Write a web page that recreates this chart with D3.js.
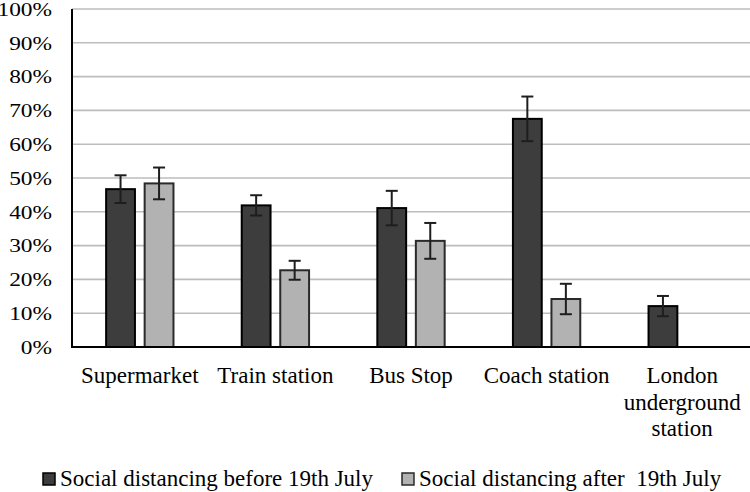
<!DOCTYPE html>
<html>
<head>
<meta charset="utf-8">
<script src="https://cdn.jsdelivr.net/npm/d3@7"></script>
<style>
html,body{margin:0;padding:0;background:#fff;}
svg{display:block;}
</style>
</head>
<body>
<script>
const categories = ["Supermarket", "Train station", "Bus Stop", "Coach station", "London underground station"];
const categoryLines = [["Supermarket"], ["Train station"], ["Bus Stop"], ["Coach station"], ["London", "underground", "station"]];
const seriesNames = ["Social distancing before 19th July", "Social distancing after  19th July"];
const beforeValues = [46.7, 41.9, 41.1, 67.5, 12.1];
const beforeErrors = [4.1, 3.0, 5.1, 6.6, 3.0];
const afterValues = [48.4, 22.7, 31.4, 14.2, null];
const afterErrors = [4.7, 2.8, 5.3, 4.5, null];
const yTicks = [0, 10, 20, 30, 40, 50, 60, 70, 80, 90, 100];
const seriesColors = ["#3d3d3d", "#b2b2b2"];
const seriesStrokes = ["#000000", "#2a2a2a"];

(function () {
const W = 750, H = 492;
const pLeft = 72, pRight = 750, pTop = 9, pBottom = 347;
const FONT = "'Liberation Serif', 'DejaVu Serif', serif";

const svg = d3.select("body").append("svg").attr("width", W).attr("height", H)
  .attr("font-family", FONT);

const y = d3.scaleLinear().domain([0, 100]).range([pBottom, pTop]);
const x0 = d3.scaleBand().domain(categories).range([pLeft, pRight]).padding(0);
const x1 = d3.scaleBand().domain([0, 1]).range([0, x0.bandwidth()]).paddingInner(0.2).paddingOuter(0.86);

// gridlines
svg.append("g").selectAll("line").data(yTicks.filter(t => t > 0)).join("line")
  .attr("x1", pLeft).attr("x2", pRight)
  .attr("y1", d => y(d)).attr("y2", d => y(d))
  .attr("stroke", "#bdbdbd").attr("stroke-width", 1.6);

// y labels
const yl = svg.append("g").selectAll("g").data(yTicks).join("g")
  .attr("transform", d => `translate(52,${y(d)}) scale(1.2,1)`);
yl.append("text").attr("text-anchor", "end").attr("dy", "0.35em")
  .attr("font-family", FONT).attr("font-size", 19.5).attr("fill", "#000").text(d => d + "%");

// bars
const data = [];
categories.forEach((c, i) => {
  data.push({c, s: 0, v: beforeValues[i], e: beforeErrors[i]});
  data.push({c, s: 1, v: afterValues[i], e: afterErrors[i]});
});
const valid = data.filter(d => d.v != null);

svg.append("g").selectAll("rect").data(valid).join("rect")
  .attr("x", d => x0(d.c) + x1(d.s) + 1)
  .attr("width", x1.bandwidth() - 2)
  .attr("y", d => y(d.v))
  .attr("height", d => y(0) - y(d.v))
  .attr("fill", d => seriesColors[d.s])
  .attr("stroke", d => seriesStrokes[d.s])
  .attr("stroke-width", 2);

// error bars
const eb = svg.append("g").attr("stroke", "#1e1e1e").attr("stroke-width", 2);
valid.forEach(d => {
  const cx = x0(d.c) + x1(d.s) + x1.bandwidth() / 2;
  const y1 = y(d.v + d.e), y2 = y(d.v - d.e);
  eb.append("line").attr("x1", cx).attr("x2", cx).attr("y1", y1).attr("y2", y2);
  eb.append("line").attr("x1", cx - 6).attr("x2", cx + 6).attr("y1", y1).attr("y2", y1);
  eb.append("line").attr("x1", cx - 6).attr("x2", cx + 6).attr("y1", y2).attr("y2", y2);
});

// axes lines
svg.append("line").attr("x1", pLeft).attr("x2", pLeft).attr("y1", pTop).attr("y2", pBottom + 1)
  .attr("stroke", "#000").attr("stroke-width", 2);
svg.append("line").attr("x1", pLeft - 1).attr("x2", pRight).attr("y1", pBottom).attr("y2", pBottom)
  .attr("stroke", "#000").attr("stroke-width", 2);

// x labels
const xl = svg.append("g").selectAll("text").data(categories).join("text")
  .attr("text-anchor", "middle")
  .attr("x", d => x0(d) + x0.bandwidth() / 2)
  .attr("y", 383)
  .attr("font-family", FONT).attr("font-size", 23).attr("fill", "#000");
xl.each(function(d, i) {
  d3.select(this).selectAll("tspan").data(categoryLines[i]).join("tspan")
    .attr("x", x0(d) + x0.bandwidth() / 2)
    .attr("dy", (t, j) => j === 0 ? 0 : 26.5)
    .text(t => t);
});

// legend
const legendX = [43, 402];
const lg = svg.append("g").selectAll("g").data(seriesNames).join("g")
  .attr("transform", (d, i) => `translate(${legendX[i]},0)`);
lg.append("rect").attr("x", 0).attr("y", 473).attr("width", 12).attr("height", 12)
  .attr("fill", (d, i) => seriesColors[i]).attr("stroke", (d, i) => seriesStrokes[i]).attr("stroke-width", 1.5);
lg.append("text").attr("x", 17).attr("y", 486)
  .attr("font-family", FONT).attr("font-size", 23).attr("fill", "#000")
  .style("white-space", "pre").attr("xml:space", "preserve").text(d => d);
})();
</script>
</body>
</html>
